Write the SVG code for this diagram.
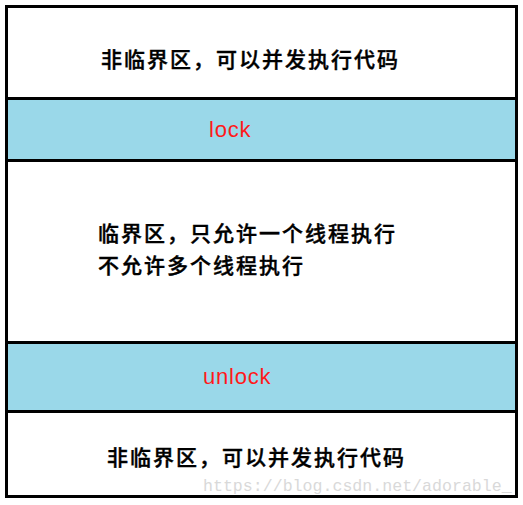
<svg xmlns="http://www.w3.org/2000/svg" width="523" height="505" viewBox="0 0 523 505">
  <style>
    .band { stroke: #000; stroke-width: 3; }
    .plain { fill: #ffffff; }
    .blue { fill: #9AD8E9; }
    .cn { font-family: "Noto Sans CJK SC", "Noto Sans", sans-serif; font-size: 21px; font-weight: 500; fill: #000; stroke: #000; stroke-width: 0.4px; letter-spacing: 2px; }
    .red { font-family: "Liberation Sans", Arial, sans-serif; font-size: 22px; fill: #ff1a1a; letter-spacing: 0.8px; }
    .wm { font-family: "Liberation Mono", "DejaVu Sans Mono", monospace; font-size: 16.6px; fill: #d9d9d9; }
  </style>
  <rect x="0" y="0" width="523" height="505" fill="#ffffff"/>
  <g id="top-noncritical">
    <rect class="band plain" x="6.5" y="6.5" width="510" height="92"/>
    <text class="cn" x="101" y="66.5">非临界区，可以并发执行代码</text>
  </g>
  <g id="lock">
    <rect class="band blue" x="6.5" y="98.5" width="510" height="62"/>
    <text class="red" x="209" y="137">lock</text>
  </g>
  <g id="critical">
    <rect class="band plain" x="6.5" y="160.5" width="510" height="182"/>
    <text class="cn" x="98" y="241">临界区，只允许一个线程执行</text>
    <text class="cn" x="98" y="273">不允许多个线程执行</text>
  </g>
  <g id="unlock">
    <rect class="band blue" x="6.5" y="342.5" width="510" height="69"/>
    <text class="red" x="203" y="384">unlock</text>
  </g>
  <g id="bottom-noncritical">
    <rect class="band plain" x="6.5" y="411.5" width="510" height="85"/>
    <text class="cn" x="107" y="465">非临界区，可以并发执行代码</text>
  </g>
  <g id="connectors"></g>
  <text class="wm" x="203" y="491">https://blog.csdn.net/adorable_</text>
</svg>
